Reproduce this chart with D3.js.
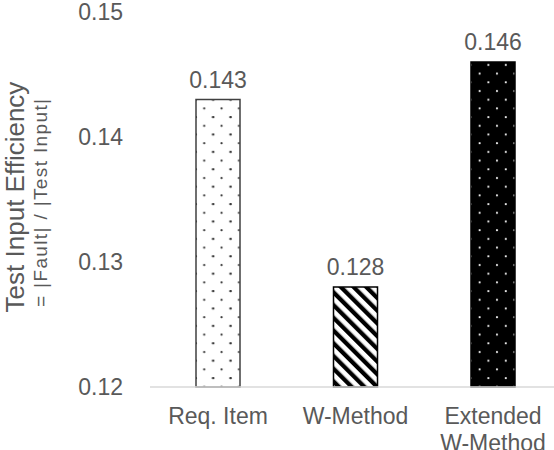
<!DOCTYPE html>
<html>
<head>
<meta charset="utf-8">
<script src="https://cdn.jsdelivr.net/npm/d3@7"></script>
<style>
  body { margin: 0; background: #fff; }
  text { font-family: "Liberation Sans", Arial, sans-serif; fill: #595959; }
</style>
</head>
<body>
<div id="canvas"></div>
<script>
"use strict"

/* chart data */
let categories = ["Req. Item", "W-Method", "Extended W-Method"];
let efficiency = [0.143, 0.128, 0.146];
let tickValues = [0.12, 0.13, 0.14, 0.15];
let fills = ["url(#dots)", "url(#stripes)", "url(#darkdots)"];

let drawing = d3.select("#canvas")
    .append("svg")
    .attr("width", 554)
    .attr("height", 450);

/* patterns for the three bars */
let defs = drawing.append("defs");

let dots = defs.append("pattern")
    .attr("id", "dots")
    .attr("patternUnits", "userSpaceOnUse")
    .attr("width", 17.4)
    .attr("height", 17.4)
    .attr("x", 196)
    .attr("y", 0);
dots.append("rect").attr("width", 17.4).attr("height", 17.4).attr("fill", "white");
dots.append("circle").attr("cx", 8.2).attr("cy", 4).attr("r", 1.1).attr("fill", "#333");
dots.append("circle").attr("cx", 16.9).attr("cy", 12.7).attr("r", 1.1).attr("fill", "#333");
dots.append("circle").attr("cx", 0).attr("cy", 12.7).attr("r", 1.1).attr("fill", "#333");

let stripes = defs.append("pattern")
    .attr("id", "stripes")
    .attr("patternUnits", "userSpaceOnUse")
    .attr("width", 9)
    .attr("height", 9)
    .attr("patternTransform", "rotate(-45)");
stripes.append("rect").attr("width", 9).attr("height", 9).attr("fill", "white");
stripes.append("rect").attr("width", 4.3).attr("height", 9).attr("fill", "black");

let darkdots = defs.append("pattern")
    .attr("id", "darkdots")
    .attr("patternUnits", "userSpaceOnUse")
    .attr("width", 17.4)
    .attr("height", 17.4)
    .attr("x", 471)
    .attr("y", 0);
darkdots.append("rect").attr("width", 17.4).attr("height", 17.4).attr("fill", "black");
darkdots.append("circle").attr("cx", 8.6).attr("cy", 4).attr("r", 1).attr("fill", "white");
darkdots.append("circle").attr("cx", 0).attr("cy", 12.7).attr("r", 1).attr("fill", "white");
darkdots.append("circle").attr("cx", 17.4).attr("cy", 12.7).attr("r", 1).attr("fill", "white");

/* scales */
let x = d3.scaleBand()
    .domain(categories)
    .range([149.25, 561.75])
    .paddingInner(0.68)
    .paddingOuter(0.34);

let y = d3.scaleLinear()
    .domain([0.12, 0.15])
    .range([387, 12]);

/* y axis labels, no line */
let yAxis = drawing.append("g")
    .attr("transform", "translate(130,0)")
    .call(d3.axisLeft(y).tickValues(tickValues).tickFormat(d3.format(".2f")).tickSize(0).tickPadding(7));
yAxis.select(".domain").remove();
yAxis.selectAll("text")
    .style("font-family", "Liberation Sans, Arial, sans-serif")
    .style("font-size", "23px")
    .attr("fill", "#595959");

/* bars */
drawing.selectAll(".bar")
    .data(efficiency)
    .enter()
    .append("rect")
    .attr("class", "bar")
    .attr("x", (d, i) => x(categories[i]))
    .attr("y", d => y(d))
    .attr("width", x.bandwidth())
    .attr("height", d => y(0.12) - y(d))
    .attr("fill", (d, i) => fills[i])
    .attr("stroke", (d, i) => i == 0 ? "#404040" : "black")
    .attr("stroke-width", 1.5);

/* baseline */
let baseline = drawing.append("line")
    .attr("x1", 150)
    .attr("y1", y(0.12))
    .attr("x2", 554)
    .attr("y2", y(0.12))
    .attr("stroke", "#d9d9d9")
    .attr("stroke-width", 1.5);

/* value labels */
drawing.selectAll(".value")
    .data(efficiency)
    .enter()
    .append("text")
    .attr("class", "value")
    .attr("x", (d, i) => x(categories[i]) + x.bandwidth() / 2)
    .attr("y", d => y(d) - 12)
    .attr("text-anchor", "middle")
    .style("font-size", "23px")
    .text(d3.format(".3f"));

/* category labels, wrapped */
let xAxis = drawing.append("g")
    .attr("transform", "translate(0," + y(0.12) + ")")
    .call(d3.axisBottom(x).tickSize(0).tickPadding(21));
xAxis.select(".domain").remove();
xAxis.selectAll("text")
    .style("font-family", "Liberation Sans, Arial, sans-serif")
    .style("font-size", "23px")
    .attr("fill", "#595959")
    .each(function (d) {
        let words = d.split(" ");
        if (d.length < 12) return;
        let t = d3.select(this).text(null);
        words.forEach((w, k) => {
            t.append("tspan")
                .attr("x", 0)
                .attr("dy", k == 0 ? "0.71em" : "1.15em")
                .text(w);
        });
    });

/* axis title */
let yTitle = drawing.append("text")
    .attr("transform", "translate(24,197) rotate(-90)")
    .attr("text-anchor", "middle")
    .style("font-size", "26px")
    .text("Test Input Efficiency");

let ySubtitle = drawing.append("text")
    .attr("transform", "translate(47,203) rotate(-90)")
    .attr("text-anchor", "middle")
    .attr("textLength", 208)
    .attr("lengthAdjust", "spacing")
    .style("font-size", "19px")
    .text("= |Fault| / |Test Input|");
</script>
</body>
</html>
